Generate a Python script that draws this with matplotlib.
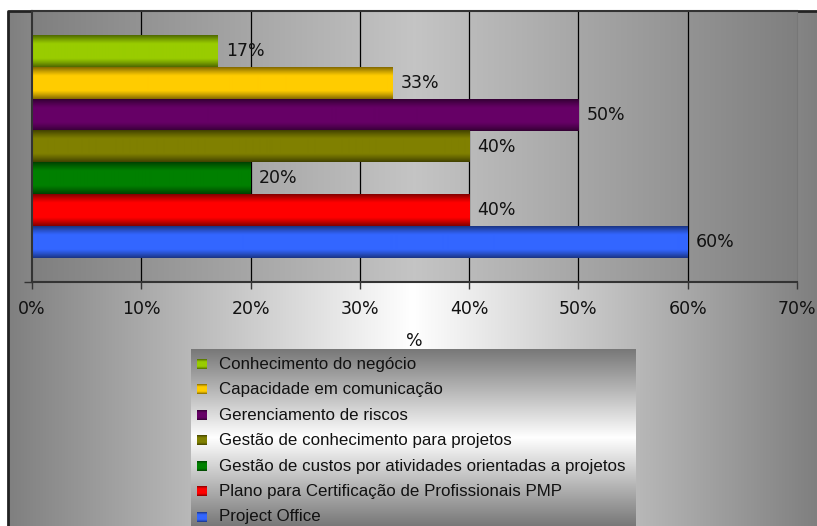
import numpy as np
import matplotlib
matplotlib.use("Agg")
import matplotlib.pyplot as plt
from matplotlib.colors import to_rgb

series = ["Conhecimento do negócio",
          "Capacidade em comunicação",
          "Gerenciamento de riscos",
          "Gestão de conhecimento para projetos",
          "Gestão de custos por atividades orientadas a projetos",
          "Plano para Certificação de Profissionais PMP",
          "Project Office"]
values = [17, 33, 50, 40, 20, 40, 60]
colors = ["#99cc00", "#ffcc00", "#660066", "#808000", "#008000", "#ff0000", "#3366ff"]
xticks = [0, 10, 20, 30, 40, 50, 60, 70]

W, H = 817, 526
LABEL_FONT = dict(fontfamily="DejaVu Sans", fontsize=12.5, color="#111111")


def shade(color, n=64):
    # cylinder look: dark at top/bottom edges, full colour in the middle
    rgb = np.array(to_rgb(color))
    t = (np.arange(n) + 0.5) / n
    w = np.clip(np.sin(np.pi * t) / 0.75, 0, 1)
    f = 0.5 + 0.5 * w
    return (f[:, None] * rgb)[:, None, :]


def hgrad(lo, hi, n=256):
    u = np.abs(np.linspace(-1, 1, n))
    g = hi - (hi - lo) * u
    return np.repeat(g[None, :, None], 3, axis=2)


def vgrad(lo, hi, n=256):
    return hgrad(lo, hi, n).transpose(1, 0, 2)


fig = plt.figure(figsize=(W / 100, H / 100), dpi=100)

# chart area
bg = fig.add_axes([0, 0, 1, 1], zorder=0)
bg.imshow(hgrad(0.5, 1.0), extent=[8, W, H, 11], aspect="auto", interpolation="bilinear")
bg.plot([8, 8, W], [H, 11, 11], color="#222222", lw=2, solid_capstyle="butt")
bg.set_xlim(0, W)
bg.set_ylim(H, 0)
bg.axis("off")

# plot area
ax = fig.add_axes([32 / W, 1 - 282 / H, 765 / W, 271 / H], zorder=1)
ax.patch.set_visible(False)
ymin, ymax = -1.25, 7.25
ax.imshow(hgrad(0.5, 0.77), extent=[0, 70, ymin, ymax], aspect="auto",
          interpolation="bilinear", zorder=0)
ax.vlines(xticks[1:-1], ymin, ymax, color="black", lw=0.9, zorder=1)

pos = np.arange(len(values))[::-1]
bars = ax.barh(pos, values, height=1.0, color="none", zorder=2)
for b, c in zip(bars, colors):
    x0, y0, w, h = b.get_x(), b.get_y(), b.get_width(), b.get_height()
    ax.imshow(shade(c), extent=[x0, x0 + w, y0, y0 + h], aspect="auto",
              interpolation="bilinear", zorder=2)

for v, p in zip(values, pos):
    ax.annotate(f"{v}%", (v, p), xytext=(8, 0), textcoords="offset pixels",
                va="center", ha="left", zorder=3, **LABEL_FONT)

ax.set_xlim(0, 70)
ax.set_ylim(ymin, ymax)
ax.set_xticks(xticks)
ax.set_xticklabels([f"{t}%" for t in xticks], **LABEL_FONT)
ax.set_yticks([ymin])
ax.tick_params(axis="x", length=5, width=1, color="#333333", pad=8)
ax.tick_params(axis="y", length=6, width=1, color="#333333", labelleft=False)
ax.set_xlabel("%", labelpad=10, **LABEL_FONT)
for side in ["left", "bottom", "top"]:
    ax.spines[side].set_color("#333333")
    ax.spines[side].set_linewidth(1.5)
ax.spines["right"].set_color("#777777")

# legend box
lh = H - 349
lax = fig.add_axes([191 / W, 0, 444 / W, lh / H], zorder=2)
lax.imshow(vgrad(0.47, 1.0), extent=[0, 444, lh, 0], aspect="auto", interpolation="bilinear")
for i, (name, c) in enumerate(zip(series, colors)):
    y = 15 + 25.5 * i
    lax.imshow(shade(c, 16), extent=[6, 16, y + 5, y - 5], aspect="auto",
               interpolation="bilinear")
    lax.text(28, y, name, va="center", ha="left", fontfamily="Liberation Sans",
             fontsize=12.2, color="#111111")
lax.set_xlim(0, 444)
lax.set_ylim(lh, 0)
lax.axis("off")

fig.savefig("out.png", dpi=100)
